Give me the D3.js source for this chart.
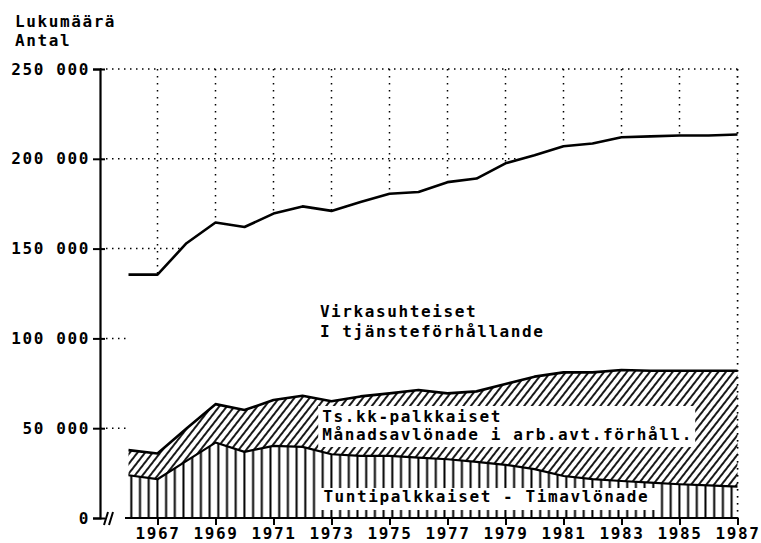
<html>
<head>
  <script src="https://d3js.org/d3.v7.min.js"></script>
  <style>
    body { margin: 0; background: #fff; }
    text {
      font-family: "DejaVu Sans Mono", monospace;
      font-size: 16px;
      font-weight: bold;
      letter-spacing: 1.6px;
      fill: #000;
    }
  </style>
</head>
<body>
<svg id="chart"></svg>
<script>
const years = [1966, 1967, 1968, 1969, 1970, 1971, 1972, 1973, 1974, 1975, 1976,
               1977, 1978, 1979, 1980, 1981, 1982, 1983, 1984, 1985, 1986, 1987];
// Tuntipalkkaiset - Timavlönade
const hourly = [23800, 21600, 31800, 42000, 36800, 40200, 39600, 35500, 34600, 34600, 33600,
                32700, 31200, 29600, 27200, 23400, 21600, 20600, 19700, 18800, 18200, 17500];
// Ts.kk-palkkaiset - Månadsavlönade i arb.avt.förhåll.
const monthly = [14000, 14300, 18000, 21400, 23300, 25500, 28500, 29500, 33100, 34800, 37700,
                 36700, 39300, 45000, 51500, 57700, 59500, 61800, 62300, 63200, 63800, 64500];
// Virkasuhteiset - I tjänsteförhållande
const officials = [97700, 99600, 103200, 101100, 101900, 103800, 105400, 106000, 108300, 111100, 110200,
                   117600, 118500, 122900, 123300, 125900, 127400, 129600, 130500, 131000, 131000, 131500];
const yTicks = [0, 50000, 100000, 150000, 200000, 250000];
const xTicks = [1967, 1969, 1971, 1973, 1975, 1977, 1979, 1981, 1983, 1985, 1987];

const width = 761, height = 543;
const svg = d3.select('#chart').attr('width', width).attr('height', height);

const x = d3.scaleLinear().domain([1966, 1987]).range([128.5, 737.5]);
const y = d3.scaleLinear().domain([0, 250000]).range([518, 69]);
const axisX = 100;

const rows = years.map((yr, i) => ({year: yr, hourly: hourly[i], monthly: monthly[i], officials: officials[i]}));
const stack = d3.stack().keys(['hourly', 'monthly', 'officials'])(rows);

// hatch patterns
const defs = svg.append('defs');
const diag = defs.append('pattern').attr('id', 'diag')
  .attr('patternUnits', 'userSpaceOnUse')
  .attr('width', 6).attr('height', 6)
  .attr('patternTransform', 'rotate(38)');
diag.append('rect').attr('width', 6).attr('height', 6).attr('fill', '#fff');
diag.append('line').attr('x1', 3).attr('x2', 3).attr('y1', 0).attr('y2', 6)
  .attr('stroke', '#000').attr('stroke-width', 1.8);

const vert = defs.append('pattern').attr('id', 'vert')
  .attr('patternUnits', 'userSpaceOnUse')
  .attr('x', 127).attr('width', 8.7).attr('height', 10);
vert.append('rect').attr('width', 8.7).attr('height', 10).attr('fill', '#fff');
vert.append('line').attr('x1', 4.3).attr('x2', 4.3).attr('y1', 0).attr('y2', 10)
  .attr('stroke', '#000').attr('stroke-width', 2);

// dotted grid
const grid = svg.append('g');
grid.selectAll('.h').data(yTicks.filter(d => d > 0)).enter().append('line')
  .attr('x1', axisX).attr('x2', x(1987))
  .attr('y1', d => y(d)).attr('y2', d => y(d))
  .attr('stroke', '#000').attr('stroke-width', 1.5).attr('stroke-dasharray', '1.5 4.5');
grid.selectAll('.v').data(xTicks).enter().append('line')
  .attr('x1', d => x(d)).attr('x2', d => x(d))
  .attr('y1', y(250000)).attr('y2', y(0))
  .attr('stroke', '#000').attr('stroke-width', 1.5).attr('stroke-dasharray', '1.5 5.5');

// areas
const area = d3.area().x(d => x(d.data.year)).y0(d => y(d[0])).y1(d => y(d[1]));
const fills = ['url(#vert)', 'url(#diag)', '#fff'];
svg.append('g').selectAll('path').data(stack).enter().append('path')
  .attr('d', area)
  .attr('fill', (d, i) => fills[i]);

// right border over the areas
svg.append('line')
  .attr('x1', x(1987)).attr('x2', x(1987)).attr('y1', y(250000)).attr('y2', y(0))
  .attr('stroke', '#000').attr('stroke-width', 1.5).attr('stroke-dasharray', '1.5 5.5');

// boundary lines
const line = d3.line().x(d => x(d.data.year)).y(d => y(d[1]));
svg.append('g').selectAll('path').data(stack).enter().append('path')
  .attr('d', line)
  .attr('fill', 'none')
  .attr('stroke', '#000')
  .attr('stroke-width', (d, i) => i === 0 ? 2.2 : 2.6)
  .attr('stroke-linejoin', 'round');

// labels inside the chart
const lab = svg.append('g');
lab.append('text').attr('x', x(1972.6)).attr('y', y(111900)).text('Virkasuhteiset');
lab.append('text').attr('x', x(1972.6)).attr('y', y(111900) + 20).text('I tjänsteförhållande');

const tsX = x(1972.68), tsY = y(53450);
lab.append('rect').attr('x', tsX - 4).attr('y', tsY - 16).attr('width', 377).attr('height', 41).attr('fill', '#fff');
lab.append('text').attr('x', tsX).attr('y', tsY).text('Ts.kk-palkkaiset');
lab.append('text').attr('x', tsX).attr('y', tsY + 18).text('Månadsavlönade i arb.avt.förhåll.');

const tuX = x(1972.72), tuY = y(8900);
lab.append('rect').attr('x', tuX - 4).attr('y', tuY - 14).attr('width', 338).attr('height', 22).attr('fill', '#fff');
lab.append('text').attr('x', tuX).attr('y', tuY).text('Tuntipalkkaiset - Timavlönade');

// axes
const loc = d3.formatLocale({decimal: '.', thousands: ' ', grouping: [3], currency: ['', '']});
const yAxis = svg.append('g').attr('transform', `translate(${axisX},0)`)
  .call(d3.axisLeft(y).tickValues(yTicks).tickFormat(loc.format(',')).tickSizeOuter(0).tickSize(7));
yAxis.select('.domain').attr('stroke-width', 2.2);
yAxis.selectAll('.tick line').attr('x1', 5).attr('x2', -7).attr('stroke-width', 2);
yAxis.selectAll('.tick text').attr('x', -10);
yAxis.attr('font-family', null).attr('font-size', null);

const xAxis = svg.append('g').attr('transform', `translate(0,${y(0)})`)
  .call(d3.axisBottom(x).tickValues(xTicks).tickFormat(d3.format('d')).tickSize(7));
xAxis.select('.domain').remove();
xAxis.selectAll('.tick line').attr('stroke-width', 2);
xAxis.selectAll('.tick text').attr('y', 21).attr('dy', 0);
xAxis.attr('font-family', null).attr('font-size', null);
xAxis.append('line').attr('x1', x(1966) - 3.5).attr('x2', x(1987))
  .attr('y1', 0).attr('y2', 0).attr('stroke', '#000').attr('stroke-width', 2.2);
// axis break
xAxis.append('path').attr('d', 'M104,7L108,-6M109,7L113,-6')
  .attr('stroke', '#000').attr('stroke-width', 2).attr('fill', 'none');

// unit title
svg.append('text').attr('x', 15).attr('y', 27).text('Lukumäärä');
svg.append('text').attr('x', 15).attr('y', 46).text('Antal');
</script>
</body>
</html>
